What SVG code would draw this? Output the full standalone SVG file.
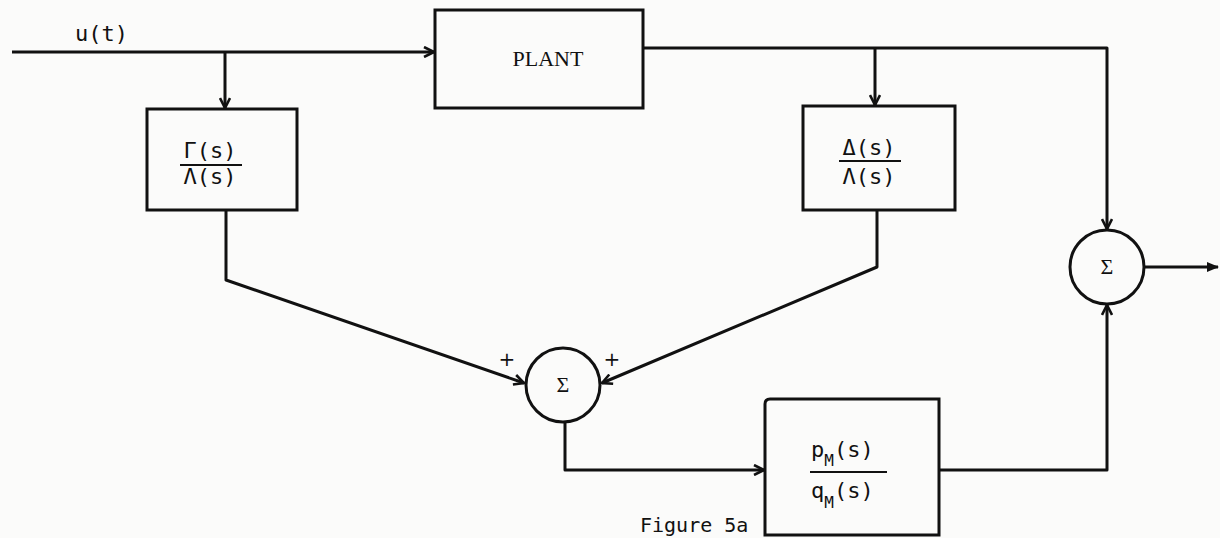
<svg xmlns="http://www.w3.org/2000/svg" width="1220" height="538" viewBox="0 0 1220 538">
<defs>
<marker id="arr" viewBox="0 0 12 12" refX="11" refY="6" markerWidth="12" markerHeight="12" markerUnits="userSpaceOnUse" orient="auto">
<path d="M1,1 L11,6 L1,11" fill="none" stroke="#111" stroke-width="2.6"/>
</marker>
<marker id="arrf" viewBox="0 0 12 12" refX="11" refY="6" markerWidth="12" markerHeight="12" markerUnits="userSpaceOnUse" orient="auto">
<path d="M0,1 L12,6 L0,11 Z" fill="#111"/>
</marker>
</defs>
<style>
.box{fill:none;stroke:#111;stroke-width:3}
.ln{fill:none;stroke:#111;stroke-width:3;stroke-linejoin:round}
.mono{font-family:"DejaVu Sans Mono","Liberation Mono",monospace;font-size:22px;fill:#111}
.sub{font-family:"DejaVu Sans Mono","Liberation Mono",monospace;font-size:16px;fill:#111}
.serif{font-family:"Liberation Serif",serif;fill:#111}
.sig{font-family:"Liberation Serif",serif;font-size:22px;fill:#111}
.plus{font-family:"DejaVu Sans",sans-serif;font-size:20px;fill:#111}
.frac{stroke:#111;stroke-width:2}
.cap{font-family:"DejaVu Sans Mono","Liberation Mono",monospace;font-size:20px;fill:#111}
</style>
<rect width="1220" height="538" fill="#fbfbfa"/>
<g id="connectors">
<line class="ln" x1="12" y1="52" x2="434" y2="52" marker-end="url(#arr)"/>
<line class="ln" x1="225" y1="52" x2="225" y2="108" marker-end="url(#arr)"/>
<polyline class="ln" points="643,48 1107,48 1107,229" marker-end="url(#arr)"/>
<line class="ln" x1="875" y1="48" x2="875" y2="105" marker-end="url(#arr)"/>
<polyline class="ln" points="226,210 226,280 524,383" marker-end="url(#arr)"/>
<polyline class="ln" points="877,210 877,267 602,383" marker-end="url(#arr)"/>
<polyline class="ln" points="565,422 565,470 764,470" marker-end="url(#arr)"/>
<polyline class="ln" points="939,470 1107,470 1107,305" marker-end="url(#arr)"/>
<line class="ln" x1="1144" y1="267" x2="1218" y2="267" marker-end="url(#arrf)"/>
</g>
<g id="input-label">
<text class="mono" x="75" y="41">u(t)</text>
</g>
<g id="plant">
<rect class="box" x="435" y="10" width="208" height="98"/>
<text class="serif" x="548" y="66" font-size="22" text-anchor="middle">PLANT</text>
</g>
<g id="gamma-block">
<rect class="box" x="147" y="109" width="150" height="101"/>
<text class="mono" x="210" y="158" text-anchor="middle">Γ(s)</text>
<line class="frac" x1="180" y1="165" x2="242" y2="165"/>
<text class="mono" x="210" y="184" text-anchor="middle">Λ(s)</text>
</g>
<g id="delta-block">
<rect class="box" x="803" y="106" width="152" height="104"/>
<text class="mono" x="869" y="155" text-anchor="middle">Δ(s)</text>
<line class="frac" x1="839" y1="161" x2="901" y2="161"/>
<text class="mono" x="869" y="184" text-anchor="middle">Λ(s)</text>
</g>
<g id="sum-center">
<circle class="box" cx="563" cy="385" r="37"/>
<text class="sig" x="563" y="392" text-anchor="middle">Σ</text>
<text class="plus" x="507" y="366" text-anchor="middle">+</text>
<text class="plus" x="612" y="366" text-anchor="middle">+</text>
</g>
<g id="sum-right">
<circle class="box" cx="1107" cy="267" r="37"/>
<text class="sig" x="1107" y="274" text-anchor="middle">Σ</text>
</g>
<g id="model-block">
<path class="box" d="M765,535 L765,404 Q765,399 770,399 L939,399 L939,535 Z"/>
<text x="811" y="457"><tspan class="mono">p</tspan><tspan class="sub" dy="9">M</tspan><tspan class="mono" dy="-9">(s)</tspan></text>
<line class="frac" x1="810" y1="472" x2="887" y2="472"/>
<text x="811" y="498"><tspan class="mono">q</tspan><tspan class="sub" dy="10">M</tspan><tspan class="mono" dy="-10">(s)</tspan></text>
</g>
<g id="caption">
<text class="cap" x="640" y="532">Figure 5a</text>
</g>
</svg>
